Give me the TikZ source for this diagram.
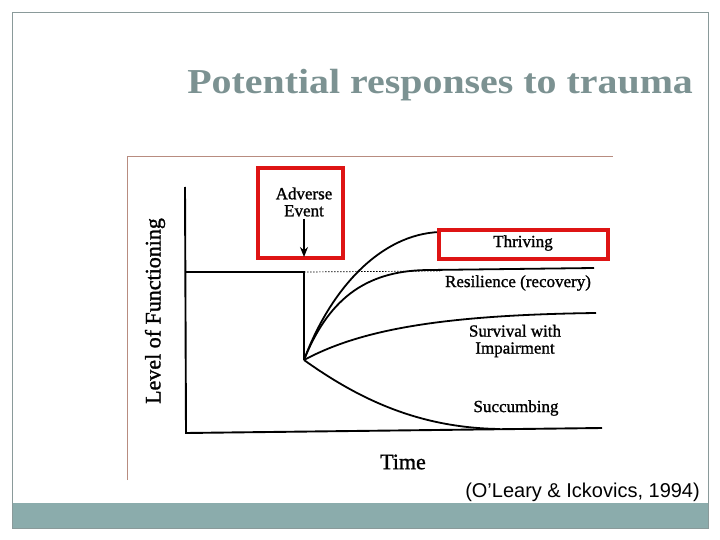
\documentclass[tikz,border=0pt]{standalone}
\usepackage{fontspec}
\setmainfont{Liberation Serif}
\newfontfamily\scanfont[FakeBold=1.2]{Liberation Serif}
\newfontfamily\citefont{Liberation Sans}
\usetikzlibrary{arrows.meta}
\definecolor{slidegrey}{RGB}{138,154,154}
\definecolor{titlegrey}{RGB}{124,146,146}
\definecolor{barteal}{RGB}{139,172,172}
\definecolor{framebrown}{RGB}{184,140,128}
\definecolor{boxred}{RGB}{222,20,20}
\tikzset{
  curve/.style={line width=1.8pt, black},
  axis/.style={line width=1.9pt, black},
  redbox/.style={draw=boxred, line width=3.2pt},
  lbl/.style={font=\scanfont\fontsize{17}{18}\selectfont, inner sep=0pt, align=center},
}
\begin{document}
\begin{tikzpicture}[x=1pt,y=-1pt]
\useasboundingbox (0,0) rectangle (720,540);
% slide frame and bar
\fill[barteal] (12,503) rectangle (708,528);
\draw[slidegrey, line width=0.8pt] (12,12) rectangle (708,528);
\node[text=titlegrey, font=\fontsize{35}{38}\selectfont\bfseries, anchor=east, xscale=1.14] (title) at (697,85) {Potential responses to trauma};
% picture frame
\draw[framebrown, line width=0.8pt] (127,480) -- (127,156) -- (613,156);
% axes
\coordinate (ytop) at (185,187);
\coordinate (orig) at (186,433);
\coordinate (xend) at (602,428);
\draw[axis] (ytop) -- (orig) -- (xend);
% baseline and drop
\coordinate (base0) at (186,272);
\coordinate (drop) at (304,272);
\coordinate (low) at (304,360);
\coordinate (dotend) at (440,271);
\draw[line width=1.5pt] (base0) -- (drop) -- (low);
\draw[line width=0.7pt, dash pattern=on 1.5pt off 1.5pt] (drop) -- (dotend);
% curves
\coordinate (thr) at (440,232);
\coordinate (res) at (430,270);
\coordinate (resend) at (594,268);
\coordinate (sur) at (596,313);
\coordinate (suc) at (500,429);
\draw[curve] (low) .. controls (330,290) and (380,234) .. (thr);
\draw[curve] (low) .. controls (330,295) and (370,270) .. (res) -- (resend);
\draw[curve] (low) .. controls (360,330) and (440,315) .. (sur);
\draw[curve] (low) .. controls (360,400) and (420,428) .. (suc);
% adverse event box
\draw[redbox] (258,168) rectangle (343,258);
\node[lbl] (adv) at (304,202) {Adverse\\[-1pt]Event};
\coordinate (arrtip) at (304,257);
\draw[line width=1.5pt, -{Stealth[length=10pt,width=8pt]}] (304,219) -- (arrtip);
% thriving box
\draw[redbox] (439,230) rectangle (608,259);
\node[lbl] (thrl) at (523,243) {Thriving};
% labels
\node[lbl] (resl) at (518,283) {Resilience (recovery)};
\node[lbl] (surl) at (515,341) {Survival with\\[-1pt]Impairment};
\node[lbl] (sucl) at (516,408) {Succumbing};
\node[font=\scanfont\fontsize{22}{24}\selectfont, inner sep=0pt] (time) at (403,462) {Time};
\node[font=\scanfont\fontsize{22}{24}\selectfont, inner sep=0pt, rotate=90] (lof) at (155,311) {Level of Functioning};
% citation
\node[font=\citefont\fontsize{20}{22}\selectfont, inner sep=0pt, anchor=east] (cite) at (700,492) {(O’Leary \& Ickovics, 1994)};
\end{tikzpicture}
\end{document}
